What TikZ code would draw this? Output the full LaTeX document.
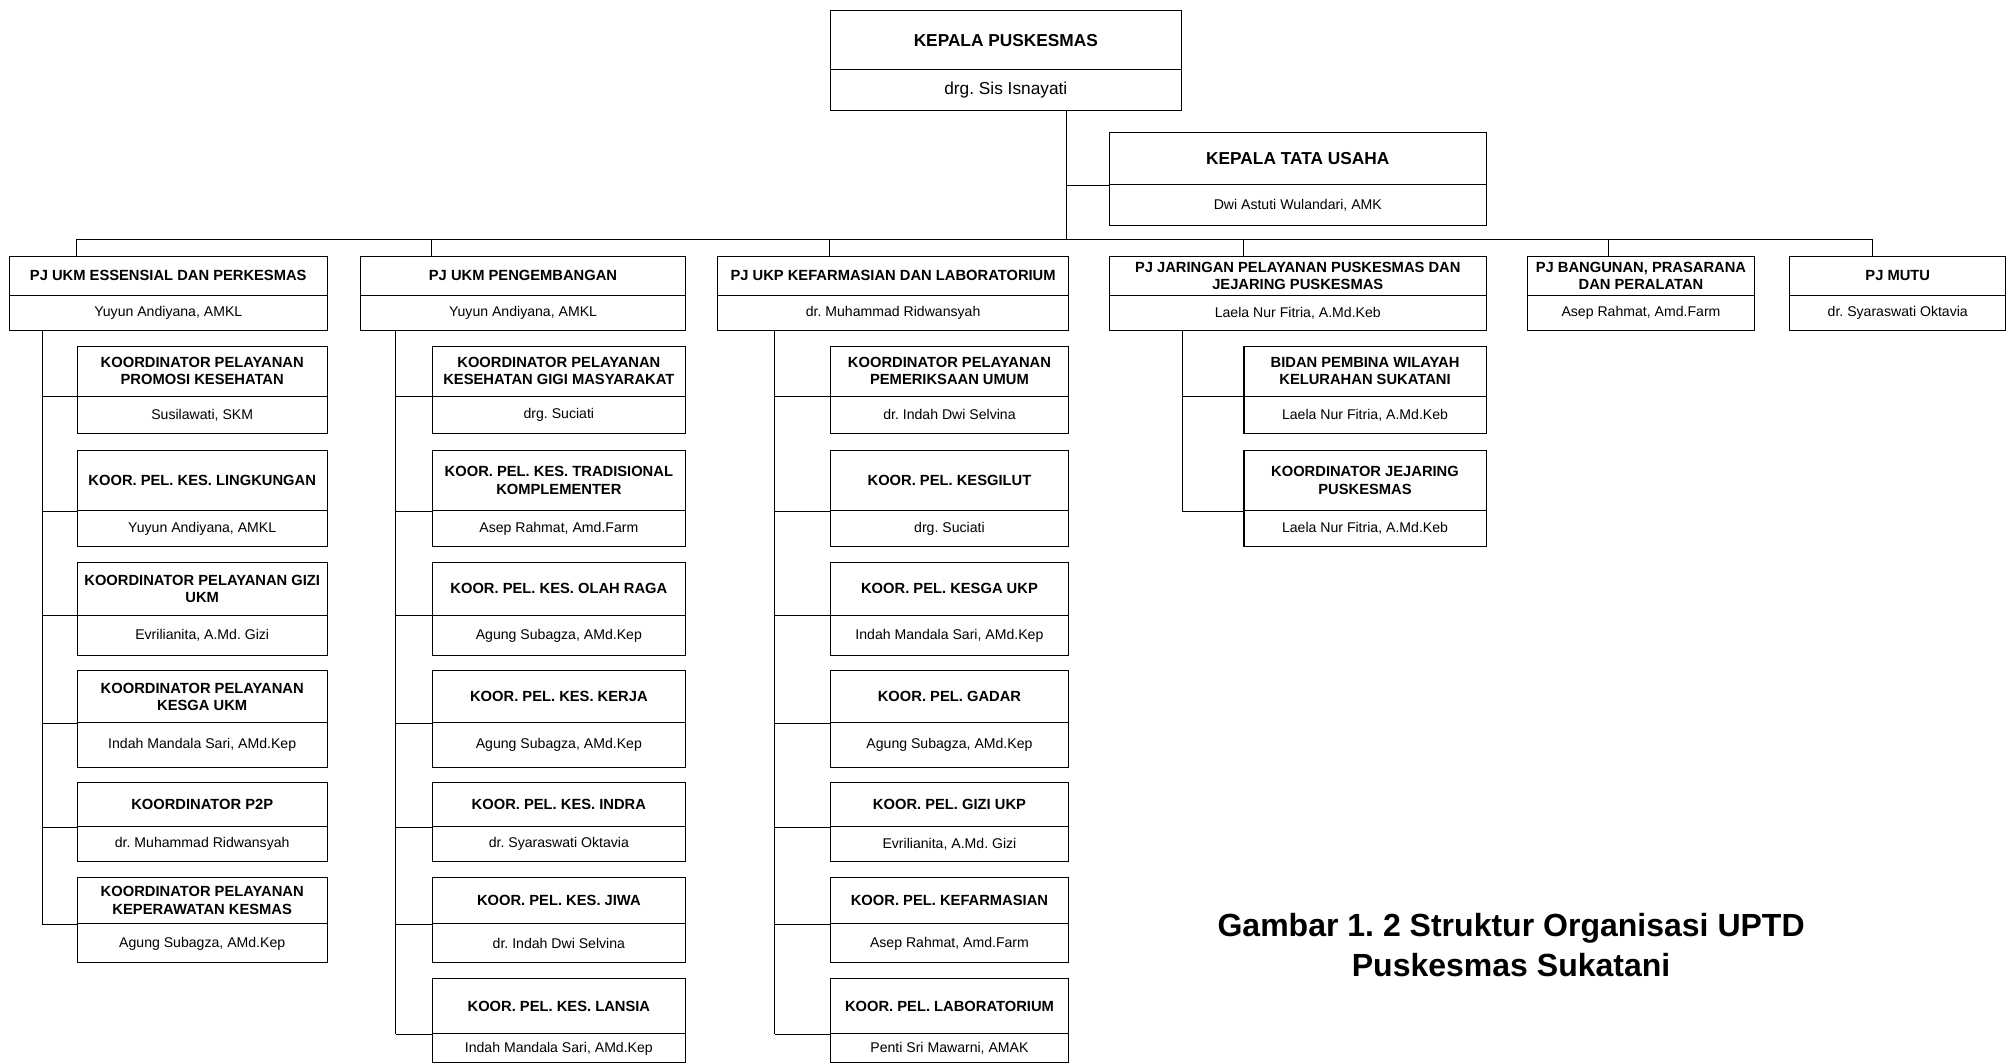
\documentclass[tikz,border=0pt]{standalone}
\usepackage{fontspec}
\setmainfont{Liberation Sans}
\frenchspacing
\begin{document}
\begin{tikzpicture}[x=1pt,y=-1pt,line width=0.8pt,
  tbox/.style={draw, rectangle, inner sep=1pt, align=center, font=\bfseries\fontsize{11.5}{13.5}\selectfont},
  nbox/.style={draw, rectangle, inner sep=1pt, align=center, font=\fontsize{11}{13}\selectfont},
  bigt/.style={tbox, font=\bfseries\fontsize{13.5}{16}\selectfont},
  bign/.style={nbox, font=\fontsize{13.5}{16}\selectfont},
  link/.style={draw, line width=0.8pt}]
\useasboundingbox (0,0) rectangle (1568,830);
% #1 name, #2 x1, #3 ytop, #4 x2, #5 ydiv, #6 ybot, #7 title, #8 person
\newcommand\ob[8]{%
  \pgfmathsetmacro\bw{#4-#2}%
  \pgfmathsetmacro\bh{#5-#3}%
  \pgfmathsetmacro\bhh{#6-#5}%
  \node[tbox, minimum width=\bw pt, minimum height=\bh pt, anchor=north west] (#1t) at (#2,#3) {#7};%
  \node[nbox, minimum width=\bw pt, minimum height=\bhh pt, anchor=north west] (#1n) at (#2,#5) {#8};%
}
\newcommand\obb[8]{%
  \pgfmathsetmacro\bw{#4-#2}%
  \pgfmathsetmacro\bh{#5-#3}%
  \pgfmathsetmacro\bhh{#6-#5}%
  \node[bigt, minimum width=\bw pt, minimum height=\bh pt, anchor=north west] (#1t) at (#2,#3) {#7};%
  \node[bign, minimum width=\bw pt, minimum height=\bhh pt, anchor=north west] (#1n) at (#2,#5) {#8};%
}
% top
\obb{KP}{648}{8}{922}{54}{86}{KEPALA PUSKESMAS}{drg. Sis Isnayati}
\pgfmathsetmacro\bw{1160-866}
\node[bigt, minimum width=\bw pt, minimum height=41pt, anchor=north west] (KTUt) at (866,103) {KEPALA TATA USAHA};
\node[nbox, minimum width=\bw pt, minimum height=32pt, anchor=north west] (KTUn) at (866,144) {Dwi Astuti Wulandari, AMK};
% level 2
\ob{Ba}{7}{200}{255}{230}{258}{PJ UKM ESSENSIAL DAN PERKESMAS}{Yuyun Andiyana, AMKL}
\ob{Bb}{281}{200}{535}{230}{258}{PJ UKM PENGEMBANGAN}{Yuyun Andiyana, AMKL}
\ob{Bc}{560}{200}{834}{230}{258}{PJ UKP KEFARMASIAN DAN LABORATORIUM}{dr. Muhammad Ridwansyah}
\ob{Bd}{866}{200}{1160}{230}{258}{PJ JARINGAN PELAYANAN PUSKESMAS DAN\\JEJARING PUSKESMAS}{Laela Nur Fitria, A.Md.Keb}
\ob{Be}{1192}{200}{1370}{230}{258}{PJ BANGUNAN, PRASARANA\\DAN PERALATAN}{Asep Rahmat, Amd.Farm}
\ob{Bf}{1397}{200}{1566}{230}{258}{PJ MUTU}{dr. Syaraswati Oktavia}
% column 1
\ob{Aa}{60}{270}{255}{309}{338}{KOORDINATOR PELAYANAN\\PROMOSI KESEHATAN}{Susilawati, SKM}
\ob{Ab}{60}{351}{255}{398.5}{426.5}{KOOR. PEL. KES. LINGKUNGAN}{Yuyun Andiyana, AMKL}
\ob{Ac}{60}{438.5}{255}{480}{511.5}{KOORDINATOR PELAYANAN GIZI\\UKM}{Evrilianita, A.Md. Gizi}
\ob{Ad}{60}{523.5}{255}{564}{599}{KOORDINATOR PELAYANAN\\KESGA UKM}{Indah Mandala Sari, AMd.Kep}
\ob{Ae}{60}{611}{255}{645}{672.5}{KOORDINATOR P2P}{dr. Muhammad Ridwansyah}
\ob{Af}{60}{684.5}{255}{721}{751.5}{KOORDINATOR PELAYANAN\\KEPERAWATAN KESMAS}{Agung Subagza, AMd.Kep}
% column 2
\ob{Ga}{337}{270}{535}{309}{338}{KOORDINATOR PELAYANAN\\KESEHATAN GIGI MASYARAKAT}{drg. Suciati}
\ob{Gb}{337}{351}{535}{398.5}{426.5}{KOOR. PEL. KES. TRADISIONAL\\KOMPLEMENTER}{Asep Rahmat, Amd.Farm}
\ob{Gc}{337}{438.5}{535}{480}{511.5}{KOOR. PEL. KES. OLAH RAGA}{Agung Subagza, AMd.Kep}
\ob{Gd}{337}{523.5}{535}{564}{599}{KOOR. PEL. KES. KERJA}{Agung Subagza, AMd.Kep}
\ob{Ge}{337}{611}{535}{645}{672.5}{KOOR. PEL. KES. INDRA}{dr. Syaraswati Oktavia}
\ob{Gf}{337}{684.5}{535}{721}{751.5}{KOOR. PEL. KES. JIWA}{dr. Indah Dwi Selvina}
\ob{Gg}{337}{764}{535}{807}{829.5}{KOOR. PEL. KES. LANSIA}{Indah Mandala Sari, AMd.Kep}
% column 3
\ob{Ha}{648}{270}{834}{309}{338}{KOORDINATOR PELAYANAN\\PEMERIKSAAN UMUM}{dr. Indah Dwi Selvina}
\ob{Hb}{648}{351}{834}{398.5}{426.5}{KOOR. PEL. KESGILUT}{drg. Suciati}
\ob{Hc}{648}{438.5}{834}{480}{511.5}{KOOR. PEL. KESGA UKP}{Indah Mandala Sari, AMd.Kep}
\ob{Hd}{648}{523.5}{834}{564}{599}{KOOR. PEL. GADAR}{Agung Subagza, AMd.Kep}
\ob{He}{648}{611}{834}{645}{672.5}{KOOR. PEL. GIZI UKP}{Evrilianita, A.Md. Gizi}
\ob{Hf}{648}{684.5}{834}{721}{751.5}{KOOR. PEL. KEFARMASIAN}{Asep Rahmat, Amd.Farm}
\ob{Hg}{648}{764}{834}{807}{829.5}{KOOR. PEL. LABORATORIUM}{Penti Sri Mawarni, AMAK}
% column 4
\ob{Ja}{971}{270}{1160}{309}{338}{BIDAN PEMBINA WILAYAH\\KELURAHAN SUKATANI}{Laela Nur Fitria, A.Md.Keb}
\ob{Jb}{971}{351}{1160}{398.5}{426.5}{KOORDINATOR JEJARING\\PUSKESMAS}{Laela Nur Fitria, A.Md.Keb}
% connectors
\coordinate (trunk) at (833,187);
\coordinate (d1) at (60,187);
\coordinate (d2) at (337,187);
\coordinate (d3) at (648,187);
\coordinate (d4) at (971,187);
\coordinate (d5) at (1256,187);
\coordinate (d6) at (1462,187);
\draw[link] (KPn.south -| trunk) -- (trunk);
\draw[link] (trunk |- KTUt.south) -- (KTUt.south west);
\draw[link] (d1) -- (d6);
\foreach \d/\b in {d1/Ba,d2/Bb,d3/Bc,d4/Bd,d5/Be,d6/Bf}
  \draw[link] (\d) -- (\d |- \b t.north);
\coordinate (s1) at (33,258);
\coordinate (s2) at (309,258);
\coordinate (s3) at (605,258);
\coordinate (s4) at (923,258);
\draw[link] (s1) -- (s1 |- Aft.south);
\draw[link] (s2) -- (s2 |- Ggt.south);
\draw[link] (s3) -- (s3 |- Hgt.south);
\draw[link] (s4) -- (s4 |- Jbt.south);
\foreach \c in {Aa,Ab,Ac,Ad,Ae,Af}
  \draw[link] (s1 |- \c t.south) -- (\c t.south west);
\foreach \c in {Ga,Gb,Gc,Gd,Ge,Gf,Gg}
  \draw[link] (s2 |- \c t.south) -- (\c t.south west);
\foreach \c in {Ha,Hb,Hc,Hd,He,Hf,Hg}
  \draw[link] (s3 |- \c t.south) -- (\c t.south west);
\foreach \c in {Ja,Jb}
  \draw[link] (s4 |- \c t.south) -- (\c t.south west);
% caption
\node[align=center, font=\bfseries\fontsize{25}{31}\selectfont] (cap) at (1180,738) {Gambar 1. 2 Struktur Organisasi UPTD\\Puskesmas Sukatani};
\end{tikzpicture}
\end{document}
